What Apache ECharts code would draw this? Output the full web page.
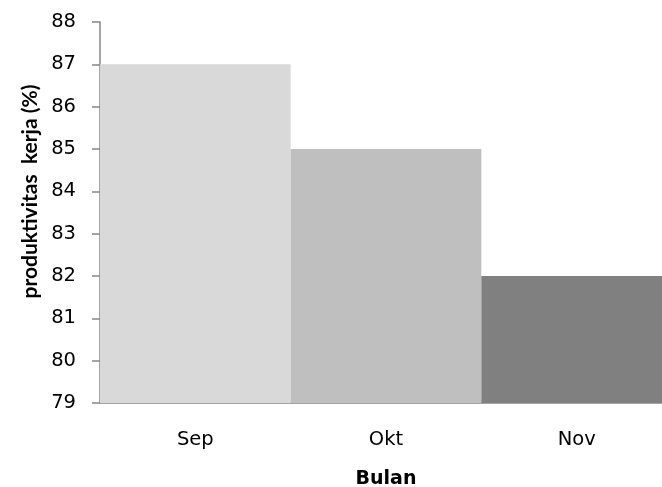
<!DOCTYPE html>
<html>
<head>
<meta charset="utf-8">
<script src="https://cdn.jsdelivr.net/npm/echarts@6/dist/echarts.min.js"></script>
<style>
  html, body { margin: 0; padding: 0; background: #fff; }
  #chart { width: 662px; height: 487px; }
</style>
</head>
<body>
<div id="chart"></div>
<script>
// Monthly work productivity
const months = ['Sep', 'Okt', 'Nov'];
const productivity = [87, 85, 82];
const barColors = ['#d9d9d9', '#bfbfbf', '#808080'];

const wideFont = '"DejaVu Sans", sans-serif';
const titleFont = 'Lato, sans-serif';
const chart = echarts.init(document.getElementById('chart'));
chart.setOption({
  animation: false,
  grid: { left: 100, top: 22, width: 572, height: 381, outerBoundsMode: 'none' },
  xAxis: {
    type: 'category',
    data: months,
    name: 'Bulan',
    nameLocation: 'middle',
    nameGap: 67,
    nameTextStyle: { fontFamily: wideFont, fontSize: 19, fontWeight: 'bold', color: '#000' },
    axisLine: { lineStyle: { color: '#868686', width: 1.5 } },
    axisTick: { show: false },
    axisLabel: { fontFamily: wideFont, fontSize: 19.5, color: '#000', margin: 27 }
  },
  yAxis: {
    type: 'value',
    min: 79,
    max: 88,
    interval: 1,
    name: 'produktivitas  kerja (%)',
    nameLocation: 'middle',
    nameGap: 55,
    nameTextStyle: {
      fontFamily: titleFont, fontSize: 21, fontWeight: 'bold', color: '#000',
      padding: [0, 0, 0, 42]
    },
    axisLine: { show: true, lineStyle: { color: '#868686', width: 1.5 } },
    axisTick: { show: true, length: 8, lineStyle: { color: '#868686', width: 1.5 } },
    splitLine: { show: false },
    axisLabel: { fontFamily: wideFont, fontSize: 19.5, color: '#000', margin: 24 }
  },
  series: [{
    type: 'bar',
    barCategoryGap: '0%',
    data: productivity.map((v, i) => ({ value: v, itemStyle: { color: barColors[i] } }))
  }]
});
</script>
</body>
</html>
